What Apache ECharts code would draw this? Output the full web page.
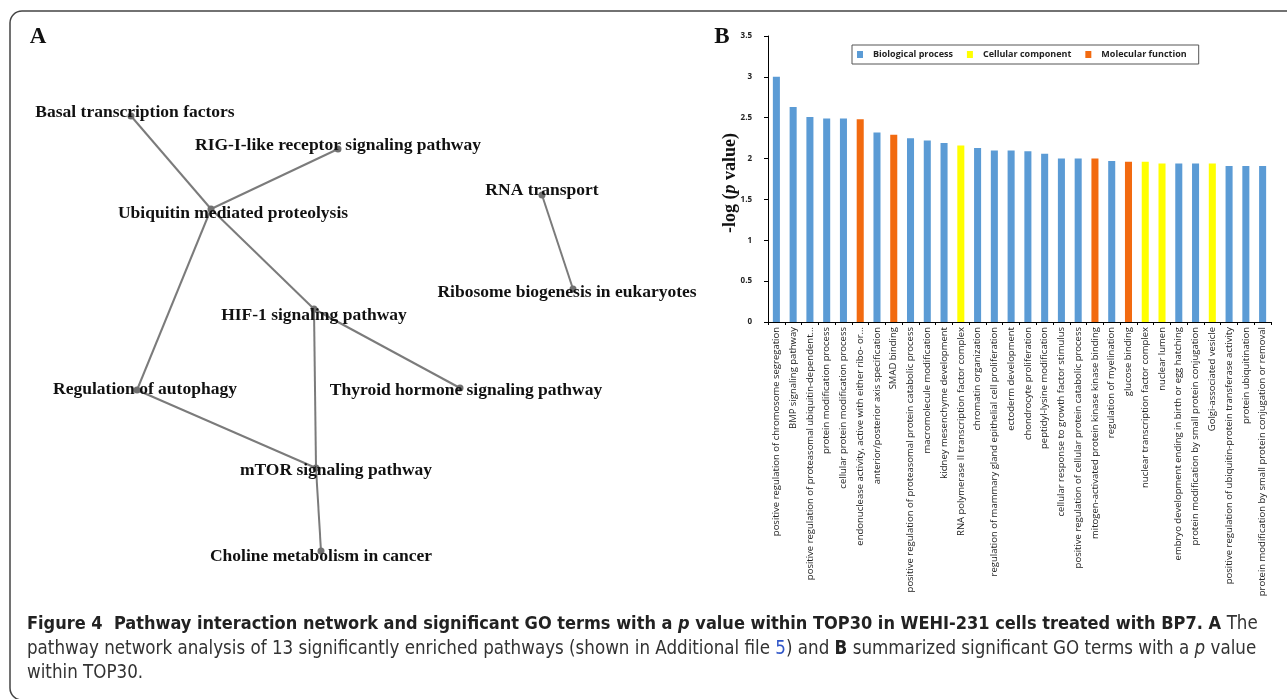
<!DOCTYPE html>
<html>
<head>
<meta charset="utf-8">
<script src="https://cdn.jsdelivr.net/npm/echarts@6/dist/echarts.min.js"></script>
<style>
html, body { margin: 0; padding: 0; background: #fff; }
#main { width: 1287px; height: 699px; }
</style>
</head>
<body>
<div id="main"></div>
<script>
// ---- panel B: GO terms ----
var goTerms = [
    'positive regulation of chromosome segregation',
    'BMP signaling pathway',
    'positive regulation of proteasomal ubiquitin-dependent...',
    'protein modification process',
    'cellular protein modification process',
    'endonuclease activity, active with either ribo- or...',
    'anterior/posterior axis specification',
    'SMAD binding',
    'positive regulation of proteasomal protein catabolic process',
    'macromolecule modification',
    'kidney mesenchyme development',
    'RNA polymerase II transcription factor complex',
    'chromatin organization',
    'regulation of mammary gland epithelial cell proliferation',
    'ectoderm development',
    'chondrocyte proliferation',
    'peptidyl-lysine modification',
    'cellular response to growth factor stimulus',
    'positive regulation of cellular protein catabolic process',
    'mitogen-activated protein kinase kinase binding',
    'regulation of myelination',
    'glucose binding',
    'nuclear transcription factor complex',
    'nuclear lumen',
    'embryo development ending in birth or egg hatching',
    'protein modification by small protein conjugation',
    'Golgi-associated vesicle',
    'positive regulation of ubiquitin-protein transferase activity',
    'protein ubiquitination',
    'protein modification by small protein conjugation or removal'
];
var goValues = [3.00, 2.63, 2.51, 2.49, 2.49, 2.48, 2.32, 2.29, 2.25, 2.22,
                2.19, 2.16, 2.13, 2.10, 2.10, 2.09, 2.06, 2.00, 2.00, 2.00,
                1.97, 1.96, 1.96, 1.94, 1.94, 1.94, 1.94, 1.91, 1.91, 1.91];
// 0 = biological process, 1 = cellular component, 2 = molecular function
var goGroup = [0, 0, 0, 0, 0, 2, 0, 2, 0, 0,
               0, 1, 0, 0, 0, 0, 0, 0, 0, 2,
               0, 2, 1, 1, 0, 0, 1, 0, 0, 0];
var groupNames = ['Biological process', 'Cellular component', 'Molecular function'];
var groupColors = ['#5b9bd5', '#ffff00', '#f26a10'];

// ---- panel A: pathway network ----
var pathways = [
    'Basal transcription factors',
    'RIG-I-like receptor signaling pathway',
    'Ubiquitin mediated proteolysis',
    'RNA transport',
    'Ribosome biogenesis in eukaryotes',
    'HIF-1 signaling pathway',
    'Regulation of autophagy',
    'Thyroid hormone signaling pathway',
    'mTOR signaling pathway',
    'Choline metabolism in cancer'
];
// layout position of each pathway node
var pathX = [131, 338, 211, 542, 573, 314, 137, 460, 316, 321];
var pathY = [116, 149, 209, 195, 289, 309, 390, 388, 468, 551];
var pathLinks = [[0, 2], [1, 2], [2, 5], [2, 6], [5, 7], [5, 8], [6, 8], [8, 9], [3, 4]];
// where each label sits relative to its node
var labelShift = [[4, -4], [0, -4], [22, 4], [0, -5], [-6, 3], [0, 6], [8, -1], [6, 2], [20, 2], [0, 5]];

var chart = echarts.init(document.getElementById('main'));

var serif = '"Liberation Serif", "Times New Roman", serif';
var sans = '"Open Sans", "Liberation Sans", sans-serif';
var capFont = '"DejaVu Sans Condensed", "DejaVu Sans", sans-serif';

var barSeries = groupNames.map(function (g, k) {
    return {
        name: g,
        type: 'bar',
        xAxisIndex: 0,
        yAxisIndex: 0,
        barWidth: '42%',
        barGap: '-100%',
        itemStyle: { color: groupColors[k] },
        data: goValues.map(function (v, i) { return goGroup[i] === k ? v : '-'; })
    };
});

var netSeries = {
    type: 'graph',
    coordinateSystem: 'cartesian2d',
    xAxisIndex: 1,
    yAxisIndex: 1,
    silent: true,
    symbol: 'circle',
    symbolSize: 7,
    itemStyle: { color: '#707070' },
    lineStyle: { color: '#7b7b7b', width: 2, opacity: 1, curveness: 0 },
    label: {
        show: true,
        position: 'inside',
        color: '#111',
        fontFamily: serif,
        fontWeight: 'bold',
        fontSize: 17.5
    },
    data: pathways.map(function (p, i) {
        return { name: p, value: [pathX[i], pathY[i]], label: { offset: labelShift[i] } };
    }),
    links: pathLinks.map(function (l) { return { source: l[0], target: l[1] }; })
};

var option = {
    animation: false,
    backgroundColor: '#fff',
    grid: [
        { left: 768, right: 16, top: 36, bottom: 377 },
        { left: 0, top: 0, width: 700, height: 600 }
    ],
    legend: {
        data: groupNames,
        left: 852,
        top: 45,
        selectedMode: false,
        icon: 'rect',
        itemWidth: 6,
        itemHeight: 7,
        itemGap: 14,
        borderColor: '#555',
        borderWidth: 1,
        borderRadius: 0,
        padding: [5, 12, 5, 5],
        textStyle: { fontSize: 9, fontWeight: 'bold', fontFamily: sans, color: '#222', padding: [0, 0, 0, 5] }
    },
    xAxis: [
        {
            gridIndex: 0,
            type: 'category',
            data: goTerms,
            axisLine: { lineStyle: { color: '#000', width: 1 } },
            axisTick: { show: true, length: 3, lineStyle: { color: '#000' } },
            axisLabel: { interval: 0, rotate: 90, fontSize: 9.5, fontFamily: sans, color: '#222', margin: 5 }
        },
        { gridIndex: 1, type: 'value', min: 0, max: 700, show: false }
    ],
    yAxis: [
        {
            gridIndex: 0,
            type: 'value',
            min: 0,
            max: 3.5,
            interval: 0.5,
            splitLine: { show: false },
            axisLine: { show: true, lineStyle: { color: '#000', width: 1 } },
            axisTick: { show: true, length: 4, lineStyle: { color: '#000' } },
            axisLabel: { fontSize: 8, fontWeight: 'bold', fontFamily: sans, color: '#222', margin: 16 }
        },
        { gridIndex: 1, type: 'value', min: 0, max: 600, inverse: true, show: false }
    ],
    series: barSeries.concat([netSeries]),
    graphic: [
        {
            type: 'rect',
            shape: { x: 10, y: 11, width: 1300, height: 689, r: 12 },
            style: { fill: 'none', stroke: '#444', lineWidth: 1.5 },
            silent: true
        },
        {
            type: 'text', x: 38, y: 37,
            style: { text: 'A', font: 'bold 23px ' + serif, fill: '#111', align: 'center', verticalAlign: 'middle' }
        },
        {
            type: 'text', x: 722, y: 37,
            style: { text: 'B', font: 'bold 23px ' + serif, fill: '#111', align: 'center', verticalAlign: 'middle' }
        },
        {
            type: 'text', x: 730, y: 183, rotation: Math.PI / 2,
            style: {
                text: '{a|-log (}{b|p}{a| value)}',
                align: 'center',
                verticalAlign: 'middle',
                rich: {
                    a: { fontFamily: serif, fontWeight: 'bold', fontSize: 18, fill: '#111' },
                    b: { fontFamily: serif, fontWeight: 'bold', fontStyle: 'italic', fontSize: 18, fill: '#111' }
                }
            }
        },
        {
            type: 'text', x: 27, y: 624,
            style: {
                text: '{b|Figure 4  Pathway interaction network and significant GO terms with a }{bi|p}{b| value within TOP30 in WEHI-231 cells treated with BP7. A }{r|The}',
                verticalAlign: 'middle',
                rich: {
                    b: { fontFamily: capFont, fontWeight: 'bold', fontSize: 18, fill: '#222' },
                    bi: { fontFamily: capFont, fontWeight: 'bold', fontStyle: 'italic', fontSize: 18, fill: '#222' },
                    r: { fontFamily: capFont, fontSize: 18.6, fill: '#333' }
                }
            }
        },
        {
            type: 'text', x: 27, y: 649,
            style: {
                text: '{r|pathway network analysis of 13 significantly enriched pathways (shown in Additional file }{l|5}{r|) and }{b|B}{r| summarized significant GO terms with a }{i|p}{r| value}',
                verticalAlign: 'middle',
                rich: {
                    r: { fontFamily: capFont, fontSize: 18.6, fill: '#333' },
                    l: { fontFamily: capFont, fontSize: 18.6, fill: '#2f55c8' },
                    b: { fontFamily: capFont, fontWeight: 'bold', fontSize: 18.6, fill: '#222' },
                    i: { fontFamily: capFont, fontStyle: 'italic', fontSize: 18.6, fill: '#333' }
                }
            }
        },
        {
            type: 'text', x: 27, y: 673,
            style: { text: 'within TOP30.', font: '18.6px ' + capFont, fill: '#333', verticalAlign: 'middle' }
        }
    ]
};

chart.setOption(option);
</script>
</body>
</html>
